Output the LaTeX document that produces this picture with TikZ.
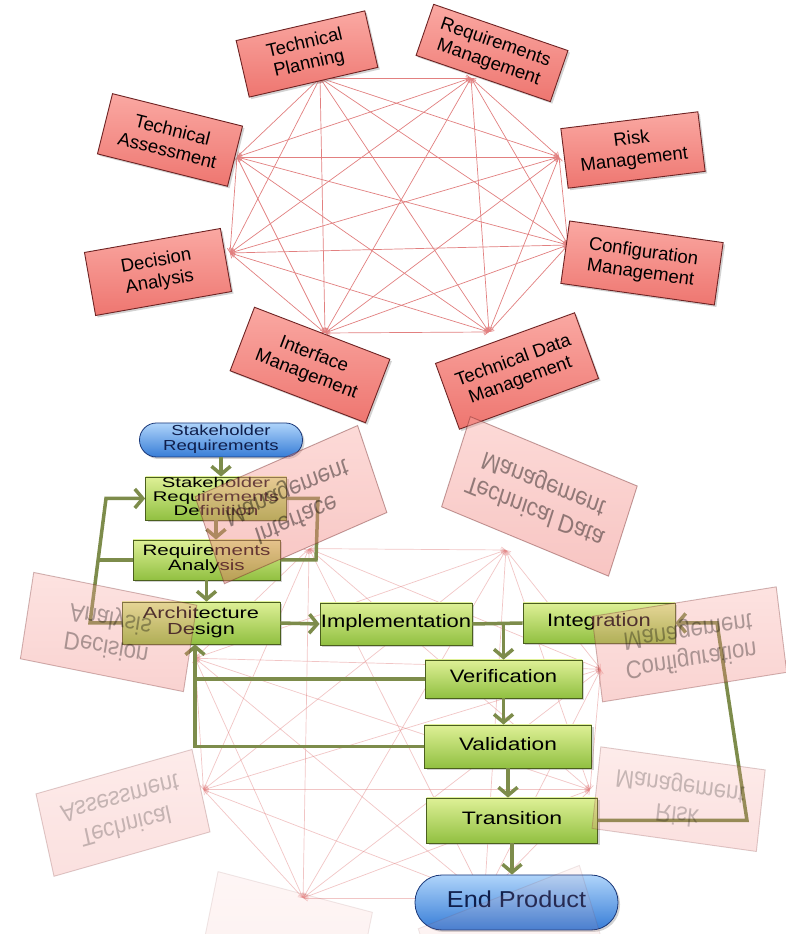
\documentclass[tikz,border=0pt]{standalone}
\usepackage{fontspec}
\setmainfont{Liberation Sans}
\usepackage{graphicx}
\usetikzlibrary{arrows.meta,shadows}

\definecolor{linkred}{RGB}{226,128,128}
\definecolor{areabot}{RGB}{238,118,112}
\definecolor{areatop}{RGB}{250,168,162}
\definecolor{areaedge}{RGB}{110,35,35}
\definecolor{proctop}{RGB}{222,240,150}
\definecolor{procbot}{RGB}{145,192,65}
\definecolor{procedge}{RGB}{75,95,30}
\definecolor{flowgreen}{RGB}{125,140,75}
\definecolor{endtop}{RGB}{175,212,250}
\definecolor{endbot}{RGB}{55,125,215}
\definecolor{endedge}{RGB}{25,55,120}
\definecolor{endtext}{RGB}{15,30,75}

% text that is wider than it is tall
\newcommand\wtext[2]{\scalebox{#1}[1]{\begin{tabular}{@{}c@{}}#2\end{tabular}}}
% far boxes of the reflection carry no readable text
\newif\iffarlabels
\farlabelstrue

\tikzset{
  shadowed/.style={drop shadow={shadow xshift=2pt,shadow yshift=-2pt,opacity=0.35}},
  areabox/.style={draw=areaedge, line width=0.9pt, top color=areatop, bottom color=areabot,
    shadowed, minimum width=138pt, minimum height=60pt, inner sep=0pt,
    font=\fontsize{18.5}{21}\selectfont, align=center},
  procbox/.style={draw=procedge, line width=0.8pt, top color=proctop, bottom color=procbot,
    shadowed, inner sep=0pt, font=\fontsize{18}{18}\selectfont},
  endbox/.style={draw=endedge, line width=0.8pt, top color=endtop, bottom color=endbot,
    shadowed, inner sep=0pt, text=endtext},
  link/.style={draw=linkred, line width=0.7pt, >={Straight Barb[length=4pt,width=6pt]}, <->},
  flowline/.style={draw=flowgreen, line width=3.5pt},
  flow/.style={flowline, -{Straight Barb[length=8pt,width=19pt]}},
  lvlA/.style={}, lvlB/.style={}, lvlC/.style={}, lvlD/.style={}
}

% the eight management areas, all linked
\newcommand\wheellinks{%
  \coordinate (v1) at (320,856);
  \coordinate (v2) at (471,856);
  \coordinate (v3) at (559,777);
  \coordinate (v4) at (568,689);
  \coordinate (v5) at (489,602);
  \coordinate (v6) at (325,601);
  \coordinate (v7) at (230,681);
  \coordinate (v8) at (237,777);
  \foreach \i in {1,...,7}
  {
    \pgfmathtruncatemacro\nxt{\i+1}
    \foreach \j in {\nxt,...,8}
      \draw[link] (v\i) -- (v\j);
  }%
}
\newcommand\wheelboxes{%
  \node[areabox, lvlD, rotate=13, minimum width=132pt, minimum height=58pt] (tp) at (307,880) {\iffarlabels Technical\\Planning\fi};
  \node[areabox, lvlD, rotate=-19, minimum width=142pt, minimum height=54pt] (rm) at (492,881) {\iffarlabels Requirements\\Management\fi};
  \node[areabox, lvlC, rotate=7] (risk) at (633,784) {Risk\\Management};
  \node[areabox, lvlB, rotate=-8, minimum width=155pt, minimum height=63pt] (cm) at (642,671) {Configuration\\Management};
  \node[areabox, lvlA, rotate=20, minimum width=148pt, minimum height=70pt] (tdm) at (517,563) {Technical Data\\Management};
  \node[areabox, lvlA, rotate=-21, minimum width=145pt, minimum height=68pt] (im) at (310,569) {Interface\\Management};
  \node[areabox, lvlB, rotate=10, minimum height=64pt] (da) at (158,662) {Decision\\Analysis};
  \node[areabox, lvlC, rotate=-14, minimum width=134pt, minimum height=62pt] (ta) at (170,794) {Technical\\Assessment};
}

\begin{document}
\begin{tikzpicture}[x=1pt,y=1pt]
\useasboundingbox (0,0) rectangle (786,934);
\clip (0,0) rectangle (786,934);
\fill[white] (0,0) rectangle (786,934);

% upper wheel
\wheellinks
\wheelboxes

% reflected wheel: links go behind the flow
\begin{scope}[name prefix=r-, shift={(-81,1208.9)}, xscale=1.2, yscale=-1.37, opacity=0.45]
  \wheellinks
\end{scope}

% life cycle flow
\node[endbox, minimum width=163pt, minimum height=34pt, rounded corners=17pt, font=\fontsize{14.5}{14.5}\selectfont] (sr) at (221,494) {\wtext{1.28}{Stakeholder\\Requirements}};
\node[procbox, minimum width=141pt, minimum height=43pt, font=\fontsize{14}{12.5}\selectfont] (srd) at (216,435.5) {\wtext{1.45}{Stakeholder\\Requirements\\Definition}};
\node[procbox, minimum width=147pt, minimum height=40pt, font=\fontsize{15}{15}\selectfont] (ra) at (206.5,374) {\wtext{1.37}{Requirements\\Analysis}};
\node[procbox, minimum width=158pt, minimum height=42pt, font=\fontsize{16}{16}\selectfont] (ad) at (201,311) {\wtext{1.36}{Architecture\\Design}};
\node[procbox, minimum width=152pt, minimum height=42pt] (impl) at (396,310) {\wtext{1.22}{Implementation}};
\node[procbox, minimum width=152pt, minimum height=40pt] (integ) at (599,311) {\wtext{1.22}{Integration}};
\node[procbox, minimum width=157pt, minimum height=38pt] (verif) at (503.5,255) {\wtext{1.22}{Verification}};
\node[procbox, minimum width=167pt, minimum height=43pt] (valid) at (508,187.5) {\wtext{1.26}{Validation}};
\node[procbox, minimum width=171pt, minimum height=45pt] (trans) at (512,113.5) {\wtext{1.28}{Transition}};
\node[endbox, minimum width=203pt, minimum height=55pt, rounded corners=27pt, font=\fontsize{23}{23}\selectfont] (ep) at (516.5,31.5) {\wtext{1.1}{End Product}};

\coordinate (jn) at (verif.north |- impl.east);
\coordinate (lb) at (90,311);
\coordinate (lt) at (106,435.5);
\coordinate (lm) at (98,374);
\coordinate (sr1) at (318,435.5);
\coordinate (sr2) at (316,374);
\coordinate (fb) at (195,187.5);
\coordinate (tr1) at (747,113.5);
\coordinate (tr2) at (717,311);

\draw[flow] (sr.south) -- (sr.south |- srd.north);
\draw[flow] (srd.south) -- (srd.south |- ra.north);
\draw[flow] (ra.south) -- (ra.south |- ad.north);
\draw[flow] (ad.east) -- (impl.west);
\draw[flowline] (impl.east) -- (integ.west);
\draw[flow] (jn) -- (verif.north);
\draw[flow] (verif.south) -- (verif.south |- valid.north);
\draw[flow] (valid.south) -- (valid.south |- trans.north);
\draw[flow] (trans.south) -- (trans.south |- ep.north);
\draw[flow] (trans.east) -- (tr1) -- (tr2) -- (integ.east);
\draw[flow] (valid.west) -- (fb) -- (fb |- ad.south);
\draw[flowline] (verif.west) -- (verif.west -| fb);
\draw[flow] (ad.west) -- (lb) -- (lt) -- (srd.west);
\draw[flowline] (ra.west) -- (lm);
\draw[flowline] (srd.east) -- (sr1) -- (sr2) -- (ra.east);

% reflected boxes lie over the flow
\farlabelsfalse
\begin{scope}[name prefix=r-, shift={(-81,1208.9)}, xscale=1.2, yscale=-1.37, transform shape,
  shadowed/.style={}, lvlA/.style={opacity=0.42}, lvlB/.style={opacity=0.32},
  lvlC/.style={opacity=0.22}, lvlD/.style={opacity=0.1}]
  \wheelboxes
\end{scope}
\end{tikzpicture}
\end{document}
